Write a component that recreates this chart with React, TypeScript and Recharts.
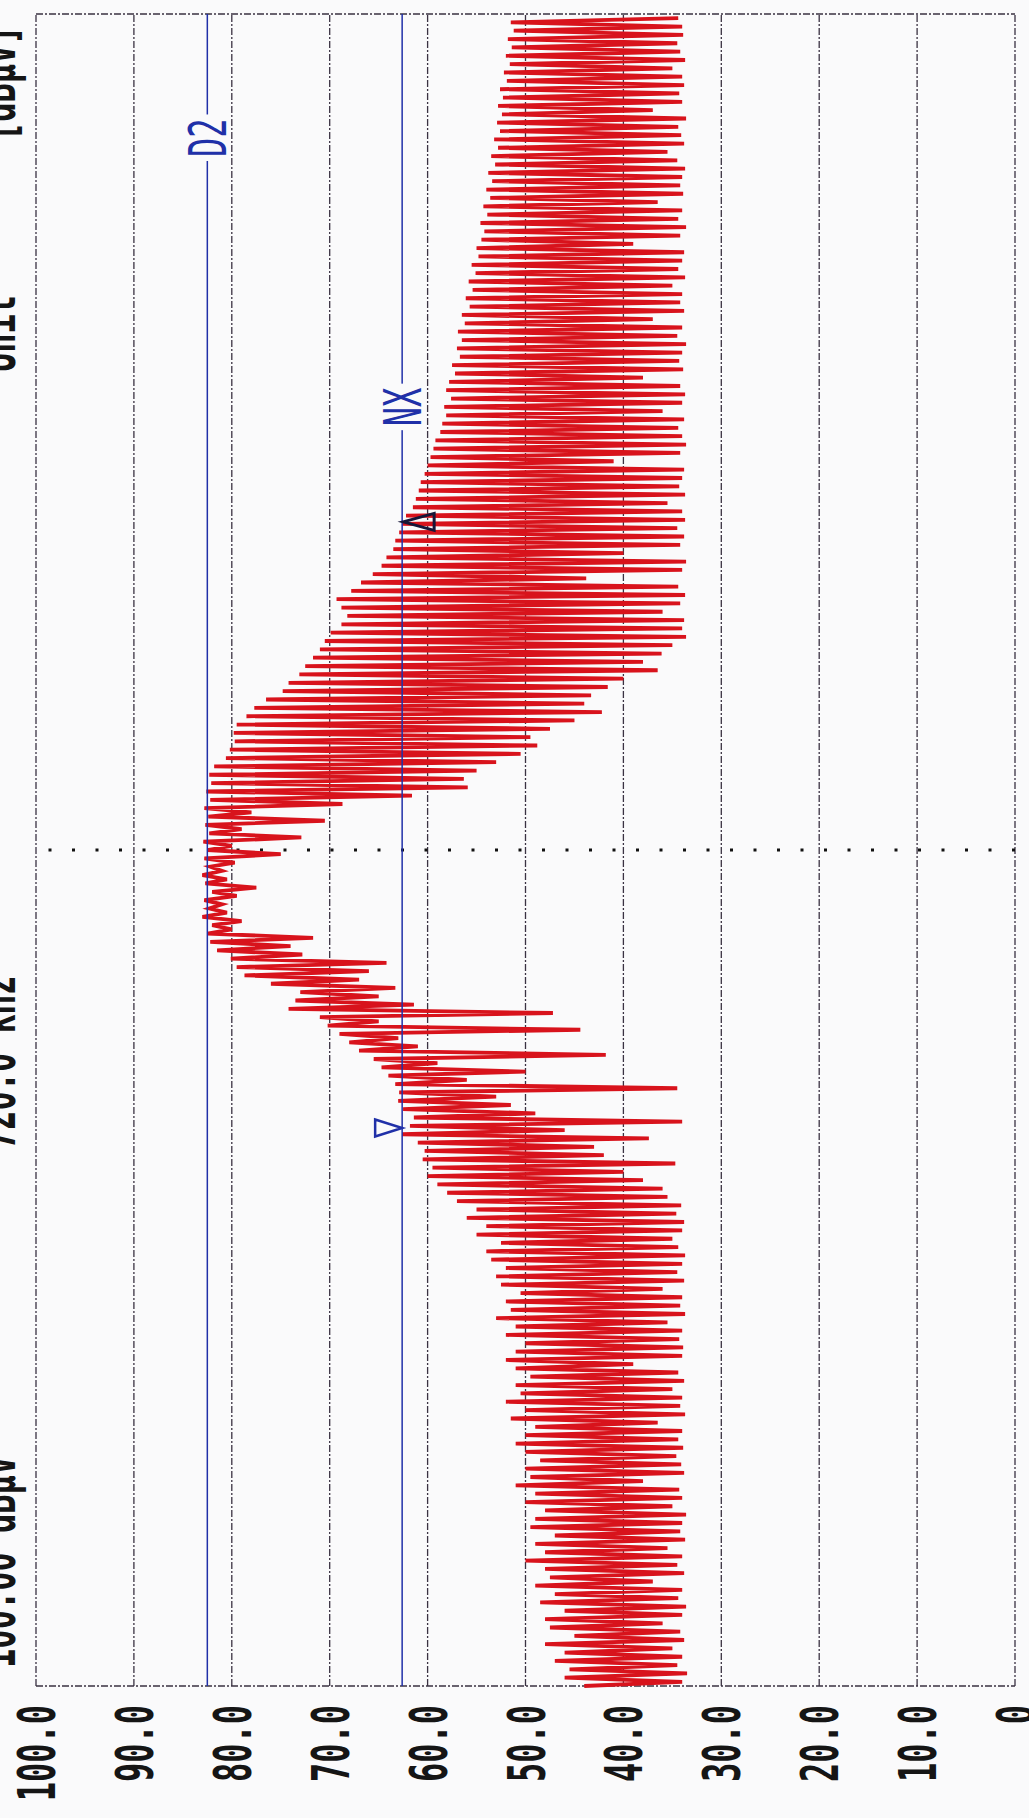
import {
  LineChart,
  Line,
  XAxis,
  YAxis,
  CartesianGrid,
  ReferenceLine,
  ReferenceDot,
} from "recharts";

// level of each sweep spike, bottom of the sweep first (dBµV)
const peakDb = [
  44, 46, 45.5, 47, 46, 48, 45, 47.5, 48, 46,
  48.5, 47, 49, 47.5, 48, 50, 48, 49, 47, 49.5,
  49, 48, 50, 49, 51, 49.5, 50, 48.5, 50, 51,
  50, 49, 51.5, 50, 52, 50.5, 51, 49.5, 51, 52,
  51, 50, 52, 51, 53, 51.5, 52, 50.5, 52.5, 53,
  52, 53.5, 54, 52.5, 55, 54, 56, 55, 57, 58,
  59, 60, 59.5, 60.5, 60.3, 61, 62.6, 61.8, 61.4, 62.5,
  63, 62.9, 63.3, 64, 64.7, 65.5, 67, 68, 69, 70.2,
  71, 74.2, 73.5, 73, 76, 78.7, 79.5, 80.1, 81.5, 82.2,
  82.5, 82, 83, 82.3, 82.8, 82, 82.7, 83, 82.2, 82.8,
  82.5, 82.9, 82.3, 82.7, 82.4, 82.8, 82.2, 82.6, 82.1, 82.3,
  81.8, 80.6, 80.2, 79.7, 79.8, 79.5, 78.5, 77.7, 76.5, 74.8,
  74.2, 73.1, 72.5, 71.7, 71, 70.5, 69.9, 68.8, 68.2, 68.8,
  69.3, 67.8, 66.8, 65.6, 64.7, 64.2, 63.5, 63.3, 62.9, 62.6,
  62.2, 61.5, 61.2, 60.9, 60.7, 60.3, 60, 59.7, 59.4, 59.2,
  58.7, 58.5, 58.1, 58.3, 57.6, 58.1, 57.8, 57.2, 57.5, 56.7,
  57, 56.5, 56.9, 56.2, 56.5, 55.7, 56.1, 55.4, 55.8, 55.1,
  55.5, 54.8, 55, 54.5, 54.2, 54.6, 53.9, 54.3, 53.6, 54,
  53.4, 53.8, 53.1, 53.5, 52.8, 53.2, 52.6, 52.9, 52.4, 52.8,
  52.3, 52.6, 51.9, 52.2, 51.6, 52, 51.4, 51.8, 51.2, 51.5,
];

// where each spike drops back to
const dipDb = [
  34, 33.5, 34.5, 34, 35, 33.8, 34.2, 36, 34, 33.6,
  34.4, 34, 37, 33.8, 34.5, 34, 35.5, 33.7, 34.2, 34,
  33.6, 35, 34, 34.3, 38, 33.8, 34.1, 34.6, 33.9, 34.4,
  34, 36.5, 33.7, 34.2, 34, 35, 33.8, 34.4, 39, 34,
  33.9, 34.3, 34, 35.5, 33.7, 34.2, 34, 36, 33.8, 34.5,
  34, 33.7, 34.4, 35, 34, 33.8, 34.6, 34.1, 35.5, 36,
  38, 40, 34.7, 42, 43, 37.4, 46, 34, 49, 51.5,
  53, 34.5, 56, 50, 59, 41.8, 61, 63, 44.4, 65,
  47.2, 61.4, 65, 63.3, 67, 66, 64.2, 72.8, 74, 71.7,
  80, 79, 80.5, 81, 79.5, 77.5, 80.5, 81, 79.7, 75,
  80, 72.9, 79, 70.5, 78, 68.7, 61.6, 55.9, 56.3, 55,
  53, 50.5, 48.8, 49.5, 47.5, 45, 42.2, 44, 43.3, 41.6,
  40, 36.5, 38, 36.1, 35, 33.6, 34, 33.8, 36, 34.2,
  33.7, 34.4, 43.8, 34, 33.6, 40, 34.2, 33.8, 34.5, 33.7,
  34, 35.5, 33.7, 34.3, 34, 33.8, 41, 34.2, 33.6, 34,
  34.4, 33.8, 36, 34, 33.7, 34.2, 38, 33.9, 34.3, 34,
  33.6, 34.5, 34, 37, 33.8, 34.2, 34, 35, 33.7, 34.4,
  34, 33.8, 39, 34.2, 33.6, 34.4, 34, 36.5, 33.9, 34.2,
  34, 33.7, 34.5, 35.5, 33.8, 34.1, 34.4, 33.6, 37, 34,
  34.3, 33.8, 34, 35, 33.7, 34.2, 34.5, 33.9, 34, 34.4,
];

const dbTicks = [0, 10, 20, 30, 40, 50, 60, 70, 80, 90, 100];
const sweepTicks = [0, 40, 80, 120, 160, 200, 240, 280, 320, 360, 400];
const centerPoint = 200;

const displayLineDb = 82.5;
const nxLineDb = 62.6;

const markers = [
  { name: "M1", idx: 133.5, db: 62.6, kind: "down" },
  { name: "D1", idx: 278.5, db: 62.6, kind: "delta" },
];

const headerTexts = [
  { text: "100.00 dBµV", x: 362, anchor: "end" },
  { text: "720.0 kHz", x: 669, anchor: "start" },
  { text: "Unit", x: 1446, anchor: "start" },
  { text: "[dBµV]", x: 1677, anchor: "start" },
];

const trace = peakDb.flatMap((p, k) => [
  { i: 2 * k, db: p },
  { i: 2 * k + 1, db: dipDb[k] },
]);

const W = 1818;
const H = 1029;
const BG = "#fafafb";
const MONO = "'DejaVu Sans Mono', 'Liberation Mono', monospace";
const FS = 32;
const SY = 1.63;
const CAP = 0.729 * FS;
const BLUE = "#2030a8";

function DbTick({ x, y, payload }: any) {
  const v = payload.value as number;
  const label = v === 0 ? "0" : v.toFixed(1);
  return (
    <text
      transform={`translate(${x},${y}) scale(1,${SY})`}
      y={CAP / 2}
      textAnchor="end"
      fontFamily={MONO}
      fontSize={FS}
      fontWeight="bold"
      fill="#151515"
    >
      {label}
    </text>
  );
}

function LineTag({ viewBox, text, at }: any) {
  if (!viewBox) return null;
  const cx = viewBox.x + viewBox.width * at;
  const cy = viewBox.y;
  const w = text.length * FS * 0.602 + 8;
  return (
    <g>
      <rect x={cx - w / 2} y={cy - 22} width={w} height={44} fill={BG} />
      <text
        transform={`translate(${cx},${cy}) scale(1,${SY})`}
        y={CAP / 2}
        textAnchor="middle"
        fontFamily={MONO}
        fontSize={FS}
        fill={BLUE}
      >
        {text}
      </text>
    </g>
  );
}

function MarkerShape({ cx, cy, kind }: any) {
  if (cx == null || cy == null) return null;
  if (kind === "down") {
    return (
      <path
        d={`M${cx - 8.5},${cy - 27} L${cx + 8.5},${cy - 27} L${cx},${cy} Z`}
        fill="none"
        stroke={BLUE}
        strokeWidth={2.5}
      />
    );
  }
  return (
    <path
      d={`M${cx},${cy + 1} L${cx + 8.5},${cy + 32} L${cx - 8.5},${cy + 32} Z`}
      fill="none"
      stroke="#161638"
      strokeWidth={3}
    />
  );
}

export default function App() {
  return (
    <div
      style={{
        position: "fixed",
        left: 0,
        top: 0,
        width: 1029,
        height: 1818,
        overflow: "hidden",
        background: BG,
      }}
    >
      <div
        style={{
          position: "absolute",
          left: 0,
          top: 0,
          width: W,
          height: H,
          transformOrigin: "0 0",
          transform: `translateY(${W}px) rotate(-90deg)`,
          background: BG,
        }}
      >
        <LineChart
          width={W}
          height={H}
          data={trace}
          margin={{ top: 36, right: 14, bottom: 14, left: 0 }}
        >
          <CartesianGrid
            stroke="#3a3242"
            strokeWidth={1.3}
            strokeDasharray="7 2 2 2"
          />
          <XAxis
            type="number"
            dataKey="i"
            domain={[0, 400]}
            ticks={sweepTicks}
            interval={0}
            tick={false}
            axisLine={false}
            tickLine={false}
            height={0}
          />
          <YAxis
            type="number"
            domain={[0, 100]}
            ticks={dbTicks}
            interval={0}
            width={132}
            axisLine={false}
            tickLine={false}
            tickSize={0}
            tickMargin={19}
            tick={<DbTick />}
          />
          <ReferenceLine
            x={centerPoint}
            stroke="#111"
            strokeWidth={3}
            strokeDasharray="3 20.5"
          />
          <Line
            type="linear"
            dataKey="db"
            stroke="#d8131c"
            strokeWidth={3.8}
            strokeLinejoin="miter"
            dot={false}
            isAnimationActive={false}
          />
          <ReferenceLine
            y={displayLineDb}
            stroke={BLUE}
            strokeWidth={1.5}
            label={<LineTag text="D2" at={0.926} />}
          />
          <ReferenceLine
            y={nxLineDb}
            stroke={BLUE}
            strokeWidth={1.5}
            label={<LineTag text="NX" at={0.765} />}
          />
          {markers.map((m) => (
            <ReferenceDot
              key={m.name}
              x={m.idx}
              y={m.db}
              r={0}
              shape={(p: any) => <MarkerShape {...p} kind={m.kind} />}
            />
          ))}
        </LineChart>
        <svg
          width={W}
          height={H}
          style={{ position: "absolute", left: 0, top: 0, pointerEvents: "none" }}
        >
          {headerTexts.map((h) => (
            <text
              key={h.text}
              transform={`translate(${h.x},15) scale(1,${SY})`}
              textAnchor={h.anchor as any}
              fontFamily={MONO}
              fontSize={FS}
              fontWeight="bold"
              fill="#151515"
            >
              {h.text}
            </text>
          ))}
        </svg>
      </div>
    </div>
  );
}
